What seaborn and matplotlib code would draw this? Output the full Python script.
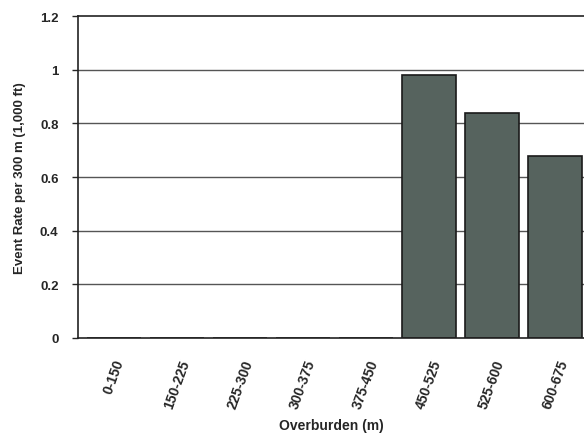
import pandas as pd
import seaborn as sns
import matplotlib.pyplot as plt

# overburden depth bins and event rates
bins = ['0-150', '150-225', '225-300', '300-375', '375-450',
        '450-525', '525-600', '600-675']
event_rate = [0, 0, 0, 0, 0, 0.98, 0.84, 0.68]

data = pd.DataFrame({'Overburden': bins, 'Rate': event_rate})

sns.set_style('white')
plt.rcParams['font.family'] = ['Liberation Sans', 'DejaVu Sans']

fig = plt.figure(figsize=(5.84, 4.39), dpi=100)
ax = fig.add_axes([78 / 584, 0.228, 506 / 584, 0.733])

# grid lines behind the bars
for y in [0.2, 0.4, 0.6, 0.8, 1.0]:
    ax.axhline(y, color='#555555', lw=1.0, zorder=0)

sns.barplot(data=data, x='Overburden', y='Rate', ax=ax, color='#56635e',
            saturation=1, width=0.86, edgecolor='#1a1a1a', linewidth=1.2,
            zorder=2)

ax.set_xlim(-0.57, 7.46)
ax.set_ylim(0, 1.2)
ax.set_yticks([0, 0.2, 0.4, 0.6, 0.8, 1, 1.2])
ax.set_yticklabels(['0', '0.2', '0.4', '0.6', '0.8', '1', '1.2'],
                   fontsize=9.5, fontweight='bold')
ax.set_xticks(range(len(bins)))
ax.set_xticklabels(bins, rotation=70, fontsize=10, fontweight='bold',
                   ha='center')

ax.tick_params(axis='y', length=4, width=1, pad=10, direction='out', left=True)
ax.tick_params(axis='x', length=0, pad=14)

for side in ['left', 'bottom', 'top']:
    ax.spines[side].set_color('#222222')
    ax.spines[side].set_linewidth(1.2)
ax.spines['right'].set_visible(False)

ax.set_xlabel('Overburden (m)', fontsize=10, fontweight='bold', labelpad=6)
ax.set_ylabel('Event Rate per 300 m (1,000 ft)', fontsize=9.5,
              fontweight='bold', labelpad=10)

fig.savefig('out.png', dpi=100)
